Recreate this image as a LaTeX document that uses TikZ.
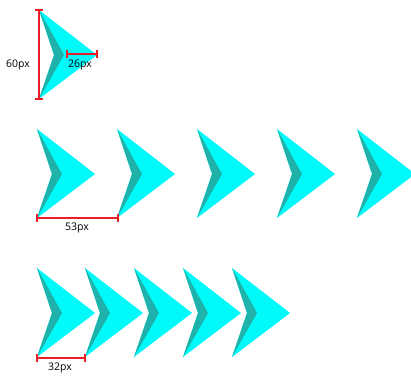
\documentclass[tikz,border=0pt]{standalone}
\usepackage{fontspec}
\setmainfont{Open Sans}
\definecolor{lightc}{RGB}{0,250,250}
\definecolor{darkc}{RGB}{30,178,170}
\definecolor{dimred}{RGB}{235,30,40}
\tikzset{
  chev/.pic={
    \fill[lightc] (0,0) -- (58,45) -- (0,89) -- (15,45) -- cycle;
    \fill[darkc] (0,0) -- (25,45) -- (0,89) -- (15,45) -- cycle;
  },
  dimline/.style={draw=dimred, line width=1.5pt},
  dimlabel/.style={font=\fontsize{10.5}{12}\selectfont, text=black, inner sep=0pt}
}
\begin{document}
\begin{tikzpicture}[x=1pt,y=-1pt]
\useasboundingbox (0,0) rectangle (411,375);
\clip (0,0) rectangle (411,375);
\fill[white] (0,0) rectangle (411,375);
% row 1
\pic at (39,10) {chev};
% row 2
\foreach \x in {37,117,197,277,357} { \pic at (\x,129) {chev}; }
% row 3
\foreach \x in {232,183,134,85,37} { \pic at (\x,268) {chev}; }
% dimension 60px
\coordinate (v1) at (39,10);
\coordinate (v2) at (39,99);
\draw[dimline] (v1) -- (v2);
\draw[dimline] ([xshift=-4]v1) -- ([xshift=4]v1);
\draw[dimline] ([xshift=-4]v2) -- ([xshift=4]v2);
\node[dimlabel] (l60) at (18,65) {60px};
% dimension 26px
\coordinate (h1) at (67,54);
\coordinate (h2) at (97,54);
\draw[dimline] (h1) -- (h2);
\draw[dimline] ([yshift=-4]h1) -- ([yshift=4]h1);
\draw[dimline] ([yshift=-4]h2) -- ([yshift=4]h2);
\node[dimlabel] (l26) at (80,65) {26px};
% dimension 53px
\coordinate (a1) at (37,218);
\coordinate (a2) at (118,218);
\draw[dimline] (a1) -- (a2);
\draw[dimline] ([yshift=-4]a1) -- ([yshift=4]a1);
\draw[dimline] ([yshift=-4]a2) -- ([yshift=4]a2);
\node[dimlabel] (l53) at (77,228) {53px};
% dimension 32px
\coordinate (b1) at (37,358);
\coordinate (b2) at (85,358);
\draw[dimline] (b1) -- (b2);
\draw[dimline] ([yshift=-4]b1) -- ([yshift=4]b1);
\draw[dimline] ([yshift=-4]b2) -- ([yshift=4]b2);
\node[dimlabel] (l32) at (60,368) {32px};
\end{tikzpicture}
\end{document}
